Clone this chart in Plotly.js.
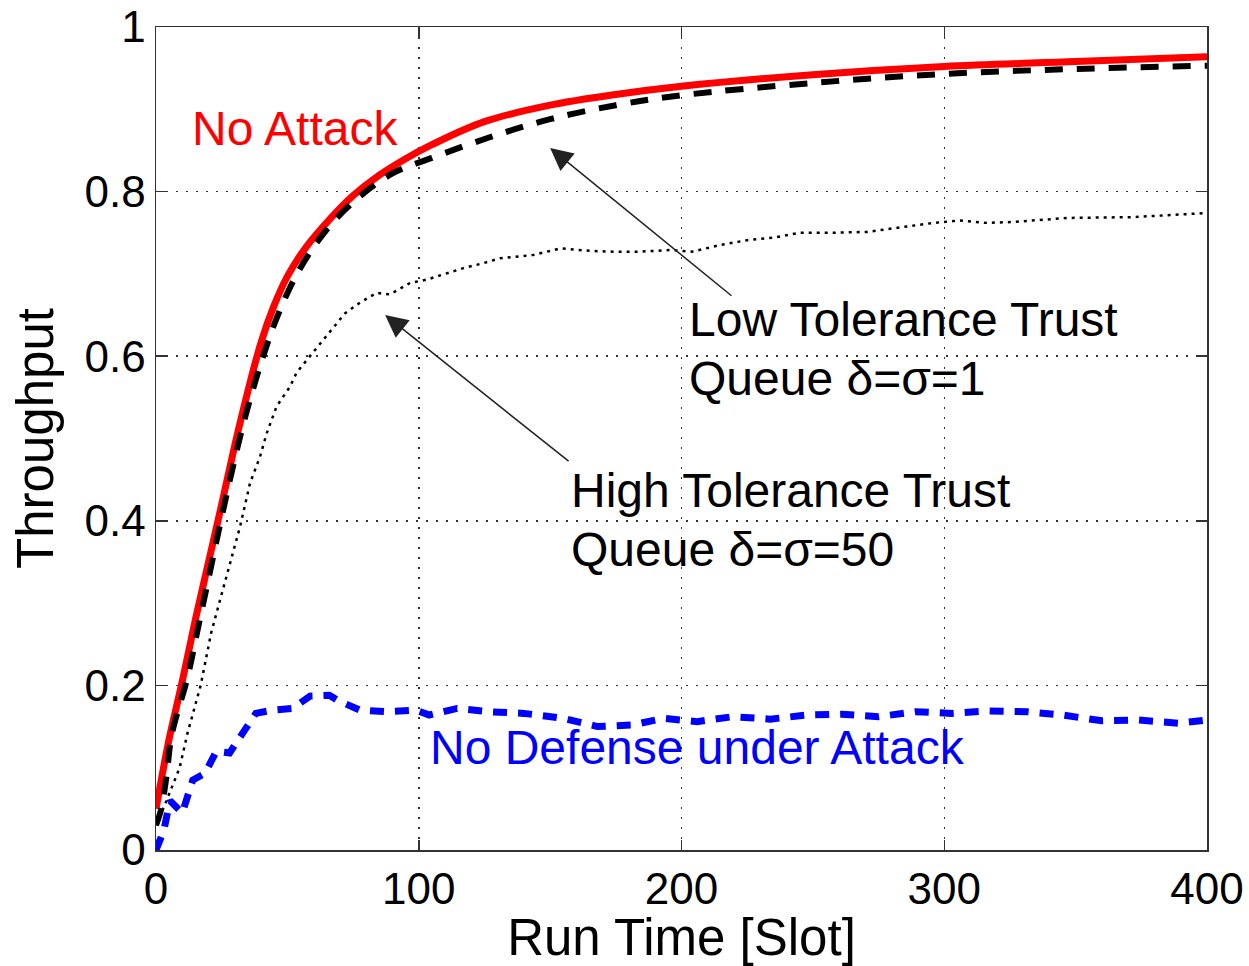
<!DOCTYPE html>
<html>
<head>
<meta charset="utf-8">
<script src="https://cdn.plot.ly/plotly-3.0.1.min.js"></script>
<style>html,body{margin:0;padding:0;background:#fff;}#chart{width:1249px;height:966px;}</style>
</head>
<body>
<div id="chart"></div>
<script>
// No Attack (red solid)
const noAttackX = [0, 2, 5, 10, 15, 20, 25, 30, 35, 40, 45, 50, 57, 66, 75, 85, 95, 105, 125, 150, 175, 200, 250, 300, 350, 400];
const noAttackY = [0.05, 0.085, 0.135, 0.205, 0.28, 0.35, 0.42, 0.492, 0.558, 0.617, 0.662, 0.697, 0.732, 0.766, 0.795, 0.82, 0.84, 0.857, 0.885, 0.905, 0.918, 0.928, 0.942, 0.952, 0.958, 0.964];

// Low Tolerance Trust Queue delta=sigma=1 (black dashed)
const lowTolX = [0, 2, 4, 6, 12, 16, 20, 24, 28, 32, 36, 41, 46, 54, 64, 76, 90, 105, 127, 150, 175, 200, 250, 300, 350, 400];
const lowTolY = [0.03, 0.05, 0.09, 0.14, 0.21, 0.27, 0.33, 0.39, 0.448, 0.502, 0.55, 0.602, 0.647, 0.702, 0.75, 0.79, 0.822, 0.841, 0.866, 0.888, 0.905, 0.917, 0.932, 0.943, 0.949, 0.953];

// High Tolerance Trust Queue delta=sigma=50 (black dotted)
const highTolX = [0, 4, 9, 12, 17, 21, 24.4, 28.2, 32, 35.8, 39.6, 42.1, 45.9, 51, 53.5, 57.3, 61.2, 66.2, 71.9, 77.6, 84, 89, 96.7, 103, 108, 117, 124.5, 131, 143.5, 154, 165, 174, 184, 195.6, 204, 214.6, 225, 235, 245, 257.7, 270.6, 283, 296, 306, 316, 326, 346.7, 371.8, 400];
const highTolY = [0.03, 0.06, 0.1, 0.142, 0.2, 0.264, 0.304, 0.349, 0.393, 0.446, 0.478, 0.506, 0.539, 0.563, 0.58, 0.595, 0.61, 0.63, 0.652, 0.665, 0.677, 0.675, 0.689, 0.693, 0.698, 0.707, 0.713, 0.719, 0.723, 0.731, 0.728, 0.727, 0.727, 0.729, 0.727, 0.735, 0.741, 0.744, 0.75, 0.75, 0.751, 0.756, 0.762, 0.765, 0.762, 0.763, 0.768, 0.769, 0.774];

// No Defense under Attack (blue dashed)
const noDefX = [0, 1.5, 3, 5.3, 10, 14, 18.6, 23, 28, 33, 38, 44.5, 52, 58.6, 66, 69, 77.6, 88, 99, 104, 114.6, 127, 140, 155, 168, 181.5, 193, 206, 219.6, 233.7, 247.8, 261, 275, 289, 303, 317, 331.5, 345, 360, 373.7, 389, 400];
const noDefY = [0.0, 0.012, 0.024, 0.06, 0.045, 0.085, 0.093, 0.12, 0.118, 0.142, 0.166, 0.17, 0.172, 0.187, 0.188, 0.182, 0.17, 0.168, 0.17, 0.164, 0.172, 0.168, 0.166, 0.16, 0.15, 0.152, 0.16, 0.156, 0.162, 0.159, 0.164, 0.165, 0.162, 0.168, 0.166, 0.169, 0.168, 0.164, 0.157, 0.158, 0.154, 0.158];

const xTicks = [0, 100, 200, 300, 400];
const yTicks = [0, 0.2, 0.4, 0.6, 0.8, 1];
const yTickText = ['0', '0.2', '0.4', '0.6', '0.8', '1'];

const FONT = '"Liberation Sans", Arial, Helvetica, sans-serif';

const traces = [
  {x: highTolX, y: highTolY, mode: 'lines', line: {color: '#000', width: 2.5, dash: '3px,5px'}, name: 'High Tolerance'},
  {x: noDefX, y: noDefY, mode: 'lines', line: {color: '#0000ff', width: 7, dash: '14px,11px'}, name: 'No Defense'},
  {x: noAttackX, y: noAttackY, mode: 'lines', line: {color: '#ff0000', width: 7, shape: 'spline', smoothing: 1}, name: 'No Attack'},
  {x: lowTolX, y: lowTolY, mode: 'lines', line: {color: '#000', width: 6, dash: '18px,14px', shape: 'spline', smoothing: 1}, name: 'Low Tolerance'}
];

const axCommon = {
  showline: true, mirror: 'ticks', linecolor: '#333', linewidth: 1.5,
  ticks: 'inside', ticklen: 10, tickcolor: '#333', tickwidth: 1.5,
  showgrid: true, gridcolor: '#333', gridwidth: 1.5, griddash: '2px,8px',
  zeroline: false, ticklabeloverflow: 'allow',
  tickfont: {family: FONT, size: 44, color: '#000'}
};

const ann = (x, y, text, color, xanchor) => ({x: x, y: y, xref: 'x', yref: 'y', text: text, showarrow: false,
  xanchor: xanchor || 'left', yanchor: 'middle', font: {family: FONT, size: 48, color: color}});

const layout = {
  width: 1249, height: 966,
  margin: {l: 156, r: 42, t: 27, b: 116},
  paper_bgcolor: '#fff', plot_bgcolor: '#fff',
  showlegend: false,
  xaxis: Object.assign({}, axCommon, {range: [0, 400], tickvals: xTicks, ticktext: xTicks.map(String),
    title: {text: 'Run Time [Slot]', font: {family: FONT, size: 51, color: '#000'}, standoff: 8}}),
  yaxis: Object.assign({}, axCommon, {range: [0, 1], tickvals: yTicks, ticktext: yTickText,
    title: {text: 'Throughput', font: {family: FONT, size: 51, color: '#000'}, standoff: 14}}),
  annotations: [
    ann(12.9, 0.877, 'No Attack', '#ff0000'),
    ann(202, 0.645, 'Low Tolerance Trust', '#000'),
    ann(202, 0.573, 'Queue δ=σ=1', '#000'),
    ann(157, 0.437, 'High Tolerance Trust', '#000'),
    ann(157, 0.365, 'Queue δ=σ=50', '#000'),
    ann(103.5, 0.124, 'No Defense under Attack', '#0000ff'),
    {x: 150, y: 0.853, xref: 'x', yref: 'y', ax: 219.6, ay: 0.672, axref: 'x', ayref: 'y', text: '',
      showarrow: true, arrowhead: 2, arrowsize: 3, arrowwidth: 1.5, arrowcolor: '#222', standoff: 0},
    {x: 87.2, y: 0.65, xref: 'x', yref: 'y', ax: 157.6, ay: 0.471, axref: 'x', ayref: 'y', text: '',
      showarrow: true, arrowhead: 2, arrowsize: 3, arrowwidth: 1.5, arrowcolor: '#222', standoff: 0}
  ]
};

Plotly.newPlot('chart', traces, layout, {staticPlot: true, displayModeBar: false});
</script>
</body>
</html>
